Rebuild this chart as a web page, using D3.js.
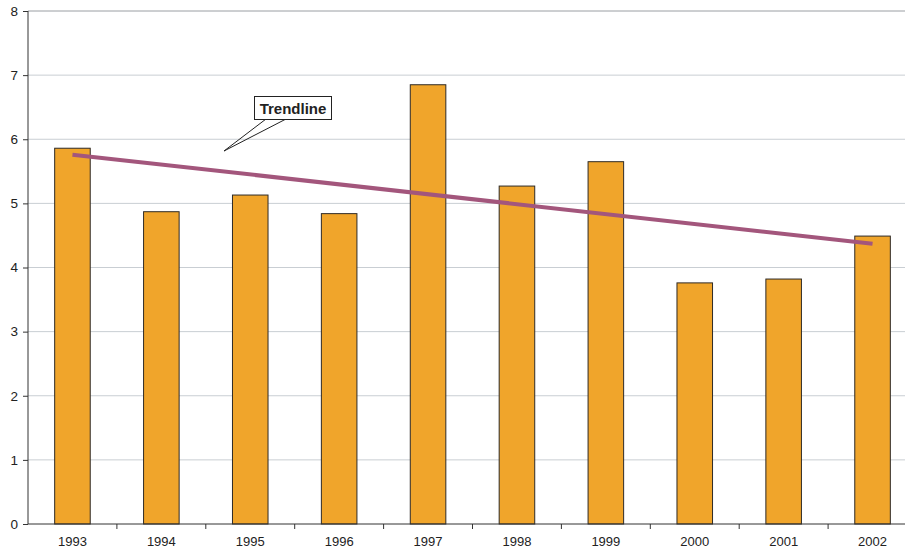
<!DOCTYPE html>
<html>
<head>
<meta charset="utf-8">
<script src="https://cdn.jsdelivr.net/npm/d3@7"></script>
<style>
  body { margin: 0; background: #fff; }
  text { font-family: "Liberation Sans", Arial, sans-serif; }
</style>
</head>
<body>
<div id="chart"></div>
<script>
// data
var years = ["1993", "1994", "1995", "1996", "1997", "1998", "1999", "2000", "2001", "2002"];
var values = [5.86, 4.87, 5.13, 4.84, 6.85, 5.27, 5.65, 3.76, 3.82, 4.49];
var yTicks = [0, 1, 2, 3, 4, 5, 6, 7, 8];
// trendline end points (first and last year)
var trendYears = ["1993", "2002"];
var trendValues = [5.76, 4.37];

var width = 905, height = 552;
var margin = {top: 11, right: -12, bottom: 28, left: 28};
var innerW = width - margin.left - margin.right,
    innerH = height - margin.top - margin.bottom;

var svg = d3.select("#chart")
  .append("svg")
  .attr("width", width)
  .attr("height", height)
  .append("g")
  .attr("transform", "translate(" + margin.left + "," + margin.top + ")");

var x = d3.scaleBand()
  .domain(years)
  .range([0, innerW])
  .paddingInner(0.6)
  .paddingOuter(0.3);

var y = d3.scaleLinear()
  .domain([0, 8])
  .range([innerH, 0]);

// gridlines
svg.selectAll(".grid")
  .data(yTicks.filter(function(d) { return d > 0; }))
  .enter().append("line")
  .attr("x1", 0)
  .attr("x2", innerW)
  .attr("y1", function(d) { return y(d); })
  .attr("y2", function(d) { return y(d); })
  .attr("stroke", function(d) { return d === 8 ? "#9a9ea3" : "#c9ced3"; })
  .attr("stroke-width", 1);

// bars
svg.selectAll(".bar")
  .data(values)
  .enter().append("rect")
  .attr("x", function(d, i) { return x(years[i]); })
  .attr("width", x.bandwidth())
  .attr("y", function(d) { return y(d); })
  .attr("height", function(d) { return innerH - y(d); })
  .attr("fill", "#f0a52b")
  .attr("stroke", "#2e2a26")
  .attr("stroke-width", 1);

// trendline
var line = d3.line()
  .x(function(d, i) { return x(trendYears[i]) + x.bandwidth() / 2; })
  .y(function(d) { return y(d); });

svg.append("path")
  .datum(trendValues)
  .attr("d", line)
  .attr("fill", "none")
  .attr("stroke", "#a3567c")
  .attr("stroke-width", 4);

// y axis
var yAxis = svg.append("g")
  .call(d3.axisLeft(y).tickValues(yTicks).tickSize(5).tickFormat(d3.format("d")));
yAxis.select(".domain").attr("stroke", "#333").attr("d", "M0," + innerH + "V0");
yAxis.selectAll(".tick line").attr("stroke", "#333");
yAxis.selectAll("text")
  .attr("font-size", 13.5)
  .attr("fill", "#222")
  .attr("x", -10);

// x axis: ticks at band boundaries
var xAxis = svg.append("g")
  .attr("transform", "translate(0," + innerH + ")");
xAxis.append("line")
  .attr("x1", 0).attr("x2", innerW)
  .attr("stroke", "#333");
xAxis.selectAll(".xtick")
  .data(years.slice(1))
  .enter().append("line")
  .attr("x1", function(d) { return x(d) - x.bandwidth() * 0.75; })
  .attr("x2", function(d) { return x(d) - x.bandwidth() * 0.75; })
  .attr("y1", 0).attr("y2", 5)
  .attr("stroke", "#333");
xAxis.selectAll(".xlabel")
  .data(years)
  .enter().append("text")
  .attr("x", function(d) { return x(d) + x.bandwidth() / 2; })
  .attr("y", 22)
  .attr("text-anchor", "middle")
  .attr("font-size", 13)
  .attr("fill", "#222")
  .text(function(d) { return d; });

// callout label
var callout = svg.append("g").attr("transform", "translate(-28,-11)");
callout.append("path")
  .attr("d", "M266,119 L224,151 L286,119")
  .attr("fill", "none")
  .attr("stroke", "#222")
  .attr("stroke-width", 1);
callout.append("rect")
  .attr("x", 254.5).attr("y", 96.5)
  .attr("width", 77).attr("height", 23)
  .attr("fill", "#fff")
  .attr("stroke", "#222");
callout.append("text")
  .attr("x", 293).attr("y", 113.5)
  .attr("text-anchor", "middle")
  .attr("font-size", 15)
  .attr("font-weight", "bold")
  .attr("fill", "#222")
  .text("Trendline");
</script>
</body>
</html>
